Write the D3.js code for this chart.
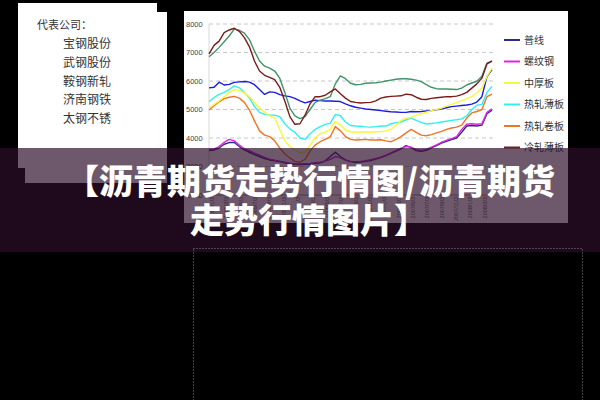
<!DOCTYPE html>
<html><head><meta charset="utf-8">
<script src="https://cdn.jsdelivr.net/npm/d3@7"></script>
<style>html,body{margin:0;padding:0;background:#000;overflow:hidden}svg{display:block}</style>
</head><body>
<svg id="c" width="600" height="400"></svg>
<script>
// ---------------- data ----------------
const companyTitle = "代表公司：";
const companies = ["宝钢股份", "武钢股份", "鞍钢新轧", "济南钢铁", "太钢不锈"];
const seriesNames = ["普线", "螺纹钢", "中厚板", "热轧薄板", "热轧卷板", "冷轧薄板"];
const seriesColors = ["#2c2c84", "#e024e0", "#f8f838", "#30f0f0", "#f07424", "#7a1c1c", "#3f9468", "#1c1ce0"];
const yTicks = [2000, 3000, 4000, 5000, 6000, 7000, 8000];
const xTickLabels = ["2005/1/3","2005/3/3","2005/5/3","2005/7/3","2005/9/3","2005/11/3","2006/1/3","2006/3/3","2006/5/3","2006/7/3",
  "2006/9/3","2006/11/3","2007/1/3","2007/3/3","2007/5/3","2007/7/3","2007/9/3","2007/11/3","2008/1/3","2008/3/3"];
const titleLine1a = "【沥青期货走势行情图";
const titleSlash = "/";
const titleLine1b = "沥青期货";
const titleLine2 = "走势行情图片】";

const puxian = [3560,3580,3650,3780,3840,3840,3700,3580,3500,3420, 3350,3280,3230,3200,3170,3130,3100,3080,3070,3080,
  3090,3110,3130,3200,3350,3500,3350,3230,3170,3150, 3160,3180,3210,3260,3310,3380,3460,3540,3620,3730,
  3660,3560,3530,3570,3650,3730,3820,3880,3940,4000, 4200,4420,4440,4420,4450,4850,4980];
const luowen = [3600,3620,3700,3850,3950,3900,3750,3620,3560,3470, 3400,3320,3260,3220,3190,3150,3120,3100,3090,3100,
  3110,3130,3150,3190,3250,3350,3300,3220,3180,3170, 3180,3200,3240,3280,3330,3400,3480,3560,3640,3700,
  3680,3590,3560,3600,3680,3760,3850,3920,3980,4050, 4300,4480,4500,4480,4500,4900,5020];
const zhonghou = [5050,5180,5300,5450,5600,5700,5660,5580,5450,5250, 5050,4900,4780,4700,4300,3900,3700,3580,3480,3500,
  3750,4000,4150,4200,4300,4580,4450,4280,4220,4200, 4210,4220,4200,4220,4230,4250,4300,4450,4620,4700,
  4720,4800,4860,4900,4960,5000,5050,5120,5180,5250, 5300,5380,5450,5580,5750,6150,6450];
const rezhaoBao = [5270,5420,5530,5600,5700,5830,5760,5600,5400,5100, 4900,4830,4810,4800,4750,4500,4320,4200,4000,3950,
  4150,4300,4400,4480,4520,4830,4780,4560,4440,4420, 4410,4390,4380,4400,4420,4420,4500,4540,4560,4640,
  4700,4620,4550,4490,4510,4530,4560,4590,4620,4640, 4670,4780,5000,5150,5180,5600,5810];
const rezhaoJuan = [4980,5130,5270,5380,5430,5460,5400,5250,4980,4600, 4250,4100,4050,3900,3650,3450,3300,3180,3150,3250,
  3550,3750,3870,3950,4050,4400,4250,4050,3950,3930, 3940,3950,3930,3930,3940,3900,3870,3950,4050,4180,
  4300,4200,4100,4080,4120,4180,4230,4300,4350,4380, 4450,4700,4880,4930,5000,5450,5540];
const lengzhao = [6950,7250,7400,7700,7790,7850,7740,7520,7200,6700, 6350,6200,6130,6050,5780,5300,4750,4480,4500,4800,
  5200,5450,5450,5500,5620,5720,5550,5400,5280,5250, 5230,5240,5250,5300,5400,5440,5460,5470,5480,5540,
  5520,5430,5360,5350,5390,5410,5430,5450,5450,5470, 5520,5600,5750,5900,6100,6600,6700];
const greenSeries = [6850,7000,7180,7380,7580,7820,7780,7680,7450,7050, 6700,6520,6450,6350,6100,5600,5050,4780,4680,4750,
  5000,5250,5330,5380,5450,5900,6180,6080,5920,5870, 5880,5920,5930,5940,5960,6000,6030,6060,6080,6080,
  6060,6030,5980,5870,5780,5730,5720,5720,5710,5700, 5750,5860,5930,5990,6170,6630,6710];
const blueSeries = [5760,5780,5960,5860,5880,5950,5970,5980,5960,5870, 5700,5530,5620,5600,5520,5480,5450,5390,5300,5230,
  5280,5330,5310,5300,5300,5290,5280,5200,5130,5080, 5050,5020,5000,4980,4960,4940,4920,4910,4900,4900,
  4930,4920,4930,4950,4960,4990,5020,5060,5100,5120, 5140,5160,5190,5260,5450,6150,6400];

// draw order: back to front
const drawOrder = [7, 6, 5, 4, 3, 2, 0, 1];
const allSeries = [puxian, luowen, zhonghou, rezhaoBao, rezhaoJuan, lengzhao, greenSeries, blueSeries];

// ---------------- drawing ----------------
const svg = d3.select("#c");
svg.append("rect").attr("width", 600).attr("height", 400).attr("fill", "#000");

// left paper panel (two stacked sheets)
svg.append("rect").attr("x", 25).attr("y", 12).attr("width", 142).attr("height", 171).attr("fill", "#fdfdfd");
svg.append("rect").attr("x", 18).attr("y", 3).attr("width", 139).attr("height", 165).attr("fill", "#ffffff");
const cjk = "'Noto Sans CJK SC','Noto Sans CJK JP',sans-serif";
svg.append("text").attr("x", 37).attr("y", 29).text(companyTitle)
  .attr("font-family", cjk).attr("font-size", 11).attr("fill", "#333");
svg.selectAll("text.comp").data(companies).join("text").attr("class", "comp")
  .attr("x", 63).attr("y", (d, i) => 48 + i * 18.8).text(d => d)
  .attr("font-family", cjk).attr("font-size", 12).attr("fill", "#333");

// chart panel
svg.append("rect").attr("x", 184).attr("y", 11).attr("width", 384).attr("height", 212).attr("fill", "#fff");

const nPts = puxian.length;
const monthsStart = -0.42, monthsEnd = 39.0;
const sampleMonths = d3.range(nPts).map(i => monthsStart + i * (monthsEnd - monthsStart) / (nPts - 1));
const x = d3.scaleLinear().domain([monthsStart, monthsEnd]).range([209, 492]);
const y = d3.scaleLinear().domain([2000, 8000]).range([195, 24]);

const plot = svg.append("g");
// gridlines
plot.selectAll("line.grid").data(yTicks.filter(v => v > 2000)).join("line").attr("class", "grid")
  .attr("x1", 209).attr("x2", 493).attr("y1", d => y(d)).attr("y2", d => y(d))
  .attr("stroke", "#c8c8c8").attr("stroke-width", 1).attr("stroke-dasharray", "4,3");
plot.append("line").attr("x1", 209).attr("x2", 209).attr("y1", 24).attr("y2", 195).attr("stroke", "#d8d8d8");
plot.append("line").attr("x1", 209).attr("x2", 493).attr("y1", 195).attr("y2", 195).attr("stroke", "#999");

// y labels
plot.selectAll("text.yl").data(yTicks).join("text").attr("class", "yl")
  .attr("x", 186).attr("y", d => y(d)).attr("dy", "0.35em").text(d => d)
  .attr("font-family", "'Liberation Sans',Arial,sans-serif").attr("font-size", 7.5).attr("fill", "#444");

// x labels (rotated)
plot.selectAll("text.xl").data(xTickLabels).join("text").attr("class", "xl")
  .attr("transform", (d, i) => `translate(${x(i * 2) + 2},197) rotate(-90)`)
  .attr("text-anchor", "end").text(d => d)
  .attr("font-family", "'Liberation Sans',Arial,sans-serif").attr("font-size", 5.5).attr("fill", "#555");

// series lines
const line = d3.line().x((d, i) => x(sampleMonths[i])).y(d => y(d)).curve(d3.curveLinear);
drawOrder.forEach(k => {
  plot.append("path").datum(allSeries[k]).attr("d", line)
    .attr("fill", "none").attr("stroke", seriesColors[k]).attr("stroke-width", 1.4)
    .attr("stroke-linejoin", "round");
});

// legend (visible entries)
const leg = svg.append("g");
seriesNames.forEach((n, i) => {
  const ly = 40 + i * 21.5;
  leg.append("line").attr("x1", 504).attr("x2", 520).attr("y1", ly).attr("y2", ly)
    .attr("stroke", seriesColors[i]).attr("stroke-width", 2);
  leg.append("text").attr("x", 524).attr("y", ly).attr("dy", "0.35em").text(n)
    .attr("font-family", cjk).attr("font-size", 10).attr("fill", "#333");
});

// banner overlay
svg.append("rect").attr("x", 0).attr("y", 148).attr("width", 600).attr("height", 104)
  .attr("fill", "rgb(45,14,42)").attr("fill-opacity", 0.69);

// dotted frame below
svg.append("rect").attr("x", 193.5).attr("y", 248.5).attr("width", 389).attr("height", 170)
  .attr("fill", "none").attr("stroke", "#808080").attr("stroke-width", 1).attr("stroke-dasharray", "1,2");

// title
const t1 = svg.append("text").attr("x", 65).attr("y", 194)
  .attr("font-family", cjk).attr("font-weight", 900).attr("font-size", 34).attr("fill", "#fff");
t1.append("tspan").text(titleLine1a);
t1.append("tspan").text(titleSlash);
t1.append("tspan").attr("dx", 1).text(titleLine1b);
svg.append("text").attr("x", 190).attr("y", 233).text(titleLine2)
  .attr("font-family", cjk).attr("font-weight", 900).attr("font-size", 34).attr("fill", "#fff");
</script>
</body></html>
